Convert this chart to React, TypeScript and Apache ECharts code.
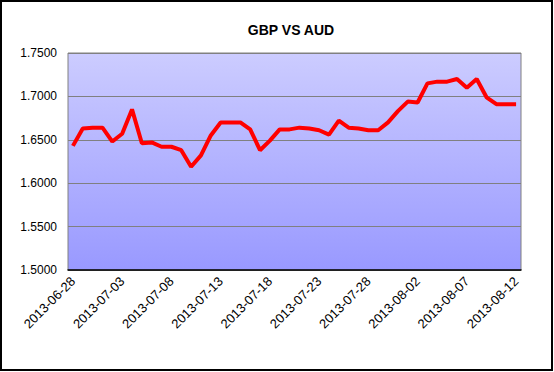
import React, { useEffect, useRef } from "react";
import * as echarts from "echarts";

const startDate = "2013-06-28";
const dayCount = 46;

const rateValues = [
  1.643, 1.663, 1.664, 1.664, 1.648, 1.657, 1.685, 1.646, 1.647, 1.642,
  1.642, 1.638, 1.619, 1.632, 1.655, 1.670, 1.670, 1.670, 1.662, 1.638,
  1.649, 1.662, 1.662, 1.664, 1.663, 1.661, 1.656, 1.672, 1.664, 1.663,
  1.661, 1.661, 1.670, 1.683, 1.694, 1.693, 1.715, 1.717, 1.717, 1.720,
  1.710, 1.720, 1.699, 1.691, 1.691, 1.691,
];

const yTicks = [1.5, 1.55, 1.6, 1.65, 1.7, 1.75];

function buildDates(start: string, n: number): string[] {
  const out: string[] = [];
  const d0 = new Date(start + "T00:00:00Z");
  for (let i = 0; i < n; i++) {
    const d = new Date(d0.getTime() + i * 86400000);
    out.push(d.toISOString().slice(0, 10));
  }
  return out;
}

const categories = buildDates(startDate, dayCount);

export default function App() {
  const ref = useRef<HTMLDivElement>(null);
  useEffect(() => {
    if (!ref.current) return;
    const chart = echarts.init(ref.current, undefined, { renderer: "svg" });
    chart.setOption({
      animation: false,
      backgroundColor: "#ffffff",
      textStyle: { fontFamily: "Liberation Sans, Arial, sans-serif" },
      title: {
        text: "GBP VS AUD",
        left: 286,
        textAlign: "center",
        top: 18,
        textStyle: {
          fontSize: 14,
          fontWeight: "bold",
          color: "#000",
          fontFamily: "Liberation Sans, Arial, sans-serif",
        },
      },
      graphic: [
        {
          type: "rect",
          shape: { x: 1, y: 1, width: 551, height: 369 },
          style: { fill: "none", stroke: "#000", lineWidth: 2 },
          silent: true,
          z: 100,
        },
      ],
      grid: {
        left: 68,
        right: 33,
        top: 53,
        bottom: 102,
        show: true,
        borderColor: "#808080",
        borderWidth: 1,
        backgroundColor: new echarts.graphic.LinearGradient(0, 0, 0, 1, [
          { offset: 0, color: "#ccccff" },
          { offset: 1, color: "#9999ff" },
        ]),
      },
      xAxis: {
        type: "category",
        data: categories,
        boundaryGap: true,
        axisLine: { lineStyle: { color: "#000", width: 1.5 } },
        axisTick: { show: false },
        axisLabel: {
          interval: 4,
          rotate: 45,
          fontSize: 13,
          color: "#000",
          margin: 9,
          fontFamily: "Liberation Sans, Arial, sans-serif",
        },
        splitLine: { show: false },
      },
      yAxis: {
        type: "value",
        min: yTicks[0],
        max: yTicks[yTicks.length - 1],
        interval: 0.05,
        axisLine: { show: false },
        axisTick: { show: false },
        axisLabel: {
          fontSize: 12,
          color: "#000",
          margin: 11,
          formatter: (v: number) => v.toFixed(4),
          fontFamily: "Liberation Sans, Arial, sans-serif",
        },
        splitLine: { show: true, lineStyle: { color: "#808080", width: 1 } },
      },
      series: [
        {
          type: "line",
          data: rateValues,
          symbol: "none",
          lineStyle: { color: "#ff0000", width: 4 },
          itemStyle: { color: "#ff0000" },
        },
      ],
    });
    return () => chart.dispose();
  }, []);
  return (
    <div
      ref={ref}
      style={{ position: "absolute", left: 0, top: 0, width: 554, height: 372 }}
    />
  );
}
